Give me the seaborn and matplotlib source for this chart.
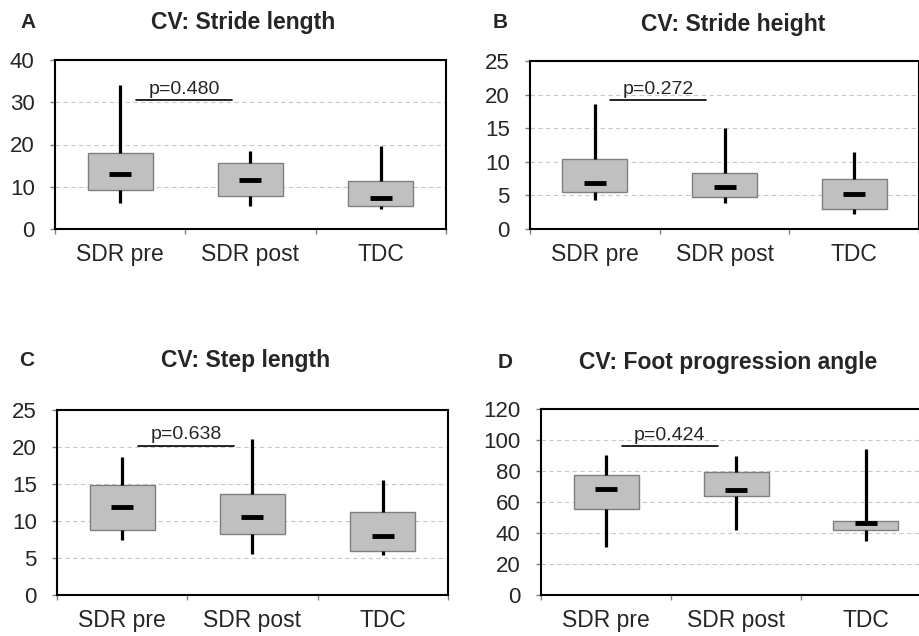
import pandas as pd
import seaborn as sns
import matplotlib.pyplot as plt

# Группы
groups = ['SDR pre', 'SDR post', 'TDC']

# A: Stride length (min, Q1, медиана, Q3, max)
sl_min = [6.2, 5.4, 4.7]
sl_q1 = [9.25, 7.8, 5.45]
sl_med = [12.9, 11.5, 7.3]
sl_q3 = [18.0, 15.7, 11.3]
sl_max = [34.1, 18.4, 19.6]

# B: Stride height
sh_min = [4.3, 3.9, 2.3]
sh_q1 = [5.55, 4.8, 3.0]
sh_med = [6.9, 6.2, 5.25]
sh_q3 = [10.4, 8.3, 7.45]
sh_max = [18.55, 15.0, 11.4]

# C: Step length
st_min = [7.4, 5.6, 5.45]
st_q1 = [8.8, 8.3, 5.95]
st_med = [11.85, 10.6, 8.0]
st_q3 = [14.8, 13.6, 11.2]
st_max = [18.7, 21.1, 15.5]

# D: Foot progression angle
fp_min = [31.1, 41.7, 35.0]
fp_q1 = [55.6, 64.0, 41.7]
fp_med = [68.5, 67.8, 46.6]
fp_q3 = [77.3, 79.2, 47.9]
fp_max = [90.6, 89.9, 94.0]

# p-значения (SDR pre vs SDR post) и высота линии
p_labels = ['p=0.480', 'p=0.272', 'p=0.638', 'p=0.424']
p_heights = [30.5, 19.15, 20.2, 96.1]

titles = ['CV: Stride length', 'CV: Stride height', 'CV: Step length', 'CV: Foot progression angle']
letters = ['A', 'B', 'C', 'D']
y_ticks = [range(0, 41, 10), range(0, 26, 5), range(0, 26, 5), range(0, 121, 20)]

sns.set_style('white')
plt.rcParams['font.family'] = ['Liberation Sans', 'DejaVu Sans']

W, H = 919, 636
fig = plt.figure(figsize=(W / 100, H / 100), dpi=100)

# положение осей в пикселях: left, top, right, bottom
boxes_px = [(55, 60, 446, 229), (530, 61, 919, 229), (57, 410, 448, 595), (541, 409, 931, 595)]
title_px = [(243, 23), (733, 24), (246, 360), (728, 362)]
letter_px = [(28, 23), (500, 23), (27, 360), (505, 362)]

summaries = [
    (sl_min, sl_q1, sl_med, sl_q3, sl_max),
    (sh_min, sh_q1, sh_med, sh_q3, sh_max),
    (st_min, st_q1, st_med, st_q3, st_max),
    (fp_min, fp_q1, fp_med, fp_q3, fp_max),
]

for i, (mins, q1s, meds, q3s, maxs) in enumerate(summaries):
    l, t, r, b = boxes_px[i]
    ax = fig.add_axes([l / W, 1 - b / H, (r - l) / W, (b - t) / H])

    # Пятичисловая сводка -> длинная таблица
    rows = []
    for g, vals in zip(groups, zip(mins, q1s, meds, q3s, maxs)):
        for v in vals:
            rows.append({'group': g, 'value': v})
    df = pd.DataFrame(rows)

    sns.boxplot(data=df, x='group', y='value', order=groups, whis=(0, 100), width=0.5,
                color='#c0c0c0', saturation=1, linecolor='#7f7f7f', linewidth=1,
                showcaps=False, showfliers=False,
                whiskerprops=dict(color='black', linewidth=2.3),
                medianprops=dict(visible=False), ax=ax)

    med_df = pd.DataFrame({'group': groups, 'value': meds})
    sns.stripplot(data=med_df, x='group', y='value', order=groups, jitter=False,
                  marker='_', size=15.5, linewidth=3.5, color='black',
                  edgecolor='black', ax=ax, zorder=5)

    # линия и p-значение
    ax.plot([0.12, 0.86], [p_heights[i]] * 2, color='black', lw=1.2)
    ax.annotate(p_labels[i], xy=(0.49, p_heights[i]), xytext=(0, 1.5),
                textcoords='offset points', ha='center', va='bottom', fontsize=14)

    ticks = list(y_ticks[i])
    ax.set_ylim(ticks[0], ticks[-1])
    ax.set_yticks(ticks)
    ax.set_xlim(-0.5, 2.5)
    ax.set_xticks([-0.5, 0.5, 1.5, 2.5], minor=True)
    ax.set_xlabel('')
    ax.set_ylabel('')

    ax.yaxis.grid(True, linestyle=(0, (4, 3)), color='#c8c8c8', linewidth=0.8)
    ax.set_axisbelow(True)
    for s in ax.spines.values():
        s.set_color('black')
        s.set_linewidth(1.5)

    ax.tick_params(axis='y', which='major', direction='out', length=3.6, width=1,
                   color='#808080', pad=11, labelsize=16, left=True)
    ax.tick_params(axis='x', which='major', length=0, pad=10, labelsize=16.5)
    ax.tick_params(axis='x', which='minor', direction='out', length=3.6, width=1,
                   color='#808080', bottom=True)

    fig.text(title_px[i][0] / W, 1 - title_px[i][1] / H, titles[i], ha='center', va='center',
             fontsize=16.5, fontweight='bold')
    fig.text(letter_px[i][0] / W, 1 - letter_px[i][1] / H, letters[i], ha='center', va='center',
             fontsize=15, fontweight='bold')

plt.savefig('out.png', dpi=100)
